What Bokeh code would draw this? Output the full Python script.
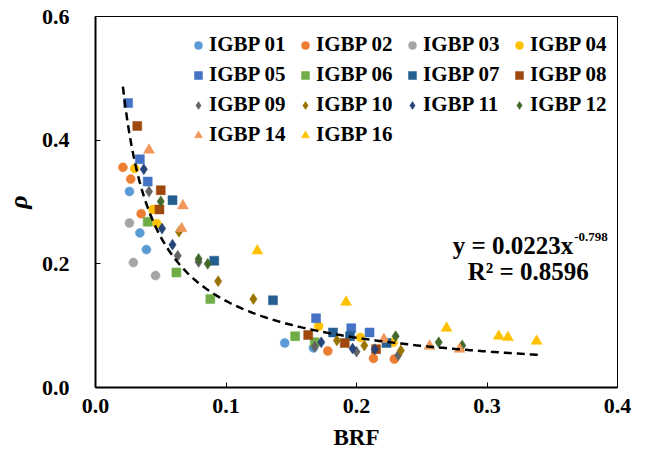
import numpy as np
from bokeh.plotting import figure
from bokeh.models import Legend, LegendItem, Label, Range1d, FixedTicker
from bokeh.embed import file_html
from bokeh.resources import INLINE

# ---- data ----
labels = ["IGBP 01", "IGBP 02", "IGBP 03", "IGBP 04", "IGBP 05", "IGBP 06", "IGBP 07",
          "IGBP 08", "IGBP 09", "IGBP 10", "IGBP 11", "IGBP 12", "IGBP 14", "IGBP 16"]

brf_01 = [0.026, 0.034, 0.039, 0.145, 0.167]
rho_01 = [0.317, 0.250, 0.223, 0.072, 0.064]
brf_02 = [0.021, 0.027, 0.035, 0.178, 0.213, 0.229]
rho_02 = [0.356, 0.337, 0.281, 0.059, 0.047, 0.046]
brf_03 = [0.026, 0.029, 0.046]
rho_03 = [0.266, 0.202, 0.181]
brf_04 = [0.030, 0.044, 0.047, 0.171, 0.203, 0.228]
rho_04 = [0.354, 0.288, 0.265, 0.099, 0.081, 0.073]
brf_05 = [0.025, 0.034, 0.040, 0.169, 0.196, 0.210]
rho_05 = [0.460, 0.369, 0.333, 0.112, 0.096, 0.089]
brf_06 = [0.040, 0.062, 0.088, 0.153, 0.168]
rho_06 = [0.268, 0.186, 0.143, 0.083, 0.073]
brf_07 = [0.059, 0.091, 0.136, 0.182, 0.195, 0.223]
rho_07 = [0.303, 0.205, 0.141, 0.089, 0.083, 0.072]
brf_08 = [0.032, 0.050, 0.049, 0.163, 0.191, 0.215]
rho_08 = [0.423, 0.319, 0.288, 0.085, 0.072, 0.062]
brf_09 = [0.041, 0.063, 0.079, 0.168, 0.200, 0.232]
rho_09 = [0.317, 0.213, 0.203, 0.066, 0.058, 0.052]
brf_10 = [0.064, 0.094, 0.121, 0.185, 0.206, 0.234]
rho_10 = [0.252, 0.172, 0.143, 0.076, 0.068, 0.060]
brf_11 = [0.037, 0.051, 0.059, 0.173, 0.197, 0.214]
rho_11 = [0.353, 0.257, 0.231, 0.073, 0.063, 0.062]
brf_12 = [0.050, 0.079, 0.086, 0.230, 0.263, 0.281]
rho_12 = [0.301, 0.208, 0.200, 0.083, 0.073, 0.068]
brf_14 = [0.041, 0.067, 0.066, 0.221, 0.256, 0.279]
rho_14 = [0.384, 0.294, 0.257, 0.078, 0.067, 0.062]
brf_16 = [0.124, 0.192, 0.269, 0.309, 0.316, 0.338]
rho_16 = [0.221, 0.138, 0.096, 0.083, 0.081, 0.075]

# power trendline y = a * x^b
fit_a = 0.0223
fit_b = -0.798
fit_xmin = 0.021
fit_xmax = 0.34

x_ticks = [0.0, 0.1, 0.2, 0.3, 0.4]
y_ticks = [0.0, 0.2, 0.4, 0.6]

brfs = [brf_01, brf_02, brf_03, brf_04, brf_05, brf_06, brf_07,
        brf_08, brf_09, brf_10, brf_11, brf_12, brf_14, brf_16]
rhos = [rho_01, rho_02, rho_03, rho_04, rho_05, rho_06, rho_07,
        rho_08, rho_09, rho_10, rho_11, rho_12, rho_14, rho_16]

colors = ["#5B9BD5", "#ED7D31", "#A5A5A5", "#FFC000", "#4472C4", "#70AD47", "#255E91",
          "#9E480E", "#636363", "#997300", "#264478", "#43682B", "#F1975A", "#FFC000"]
markers = ["circle"] * 4 + ["square"] * 4 + ["diamond"] * 4 + ["triangle"] * 2
sizes = [9] * 4 + [9] * 4 + [11] * 4 + [11] * 2

FONT = "Liberation Serif"

p = figure(width=631, height=456, output_backend="svg", toolbar_location=None,
           x_range=Range1d(0, 0.4), y_range=Range1d(0, 0.6),
           min_border_left=94, min_border_right=14, min_border_top=16, min_border_bottom=69)
p.grid.visible = False
p.outline_line_color = "black"
p.outline_line_width = 1

items = []
for lab, bx, ry, c, m, s in zip(labels, brfs, rhos, colors, markers, sizes):
    r = p.scatter(bx, ry, marker=m, size=s, fill_color=c, line_color=c, line_width=0.5)
    items.append(LegendItem(label=lab, renderers=[r]))

fx = np.linspace(fit_xmin, fit_xmax, 200)
fy = fit_a * fx ** fit_b
p.line(fx, fy, line_color="black", line_width=2.5, line_dash="8 5")

for ax in (p.xaxis, p.yaxis):
    ax.axis_line_color = "black"
    ax.axis_line_width = 2
    ax.major_tick_in = 5
    ax.major_tick_out = 0
    ax.major_tick_line_color = "black"
    ax.minor_tick_line_color = None
    ax.major_label_text_font = FONT
    ax.major_label_text_font_style = "bold"
    ax.major_label_text_font_size = "22px"
    ax.major_label_text_color = "black"
    ax.axis_label_text_font = FONT
    ax.axis_label_text_color = "black"

p.xaxis.ticker = FixedTicker(ticks=x_ticks)
p.yaxis.ticker = FixedTicker(ticks=y_ticks)
p.xaxis.major_label_overrides = {t: f"{t:.1f}" for t in x_ticks}
p.yaxis.major_label_overrides = {t: f"{t:.1f}" for t in y_ticks}
p.xaxis.major_label_standoff = 11
p.yaxis.major_label_standoff = 26

p.xaxis.axis_label = "BRF"
p.xaxis.axis_label_text_font_style = "bold"
p.xaxis.axis_label_text_font_size = "23px"
p.xaxis.axis_label_standoff = 9
p.yaxis.axis_label = "ρ"
p.yaxis.axis_label_text_font_style = "bold italic"
p.yaxis.axis_label_text_font_size = "26px"
p.yaxis.axis_label_standoff = 6

legend = Legend(items=items, orientation="horizontal", ncols=4,
                location=(93, 240), padding=0, margin=0, spacing=5,
                glyph_width=20, glyph_height=22, label_height=22, label_standoff=1,
                label_width=81,
                label_text_font=FONT, label_text_font_style="bold",
                label_text_font_size="21px", label_text_color="black",
                border_line_color=None, background_fill_alpha=0)
p.add_layout(legend)

eq_style = dict(text_font=FONT, text_font_style="bold", text_color="black")
p.add_layout(Label(x=0.3660, y=0.229, text="y = 0.0223x", text_align="right",
                   text_baseline="middle", text_font_size="25px", **eq_style))
p.add_layout(Label(x=0.3668, y=0.243, text="-0.798", text_align="left",
                   text_baseline="middle", text_font_size="13px", **eq_style))
p.add_layout(Label(x=0.378, y=0.1876, text="R² = 0.8596", text_align="right",
                   text_baseline="middle", text_font_size="25px", **eq_style))

open("out.html", "w").write(file_html(p, INLINE))
